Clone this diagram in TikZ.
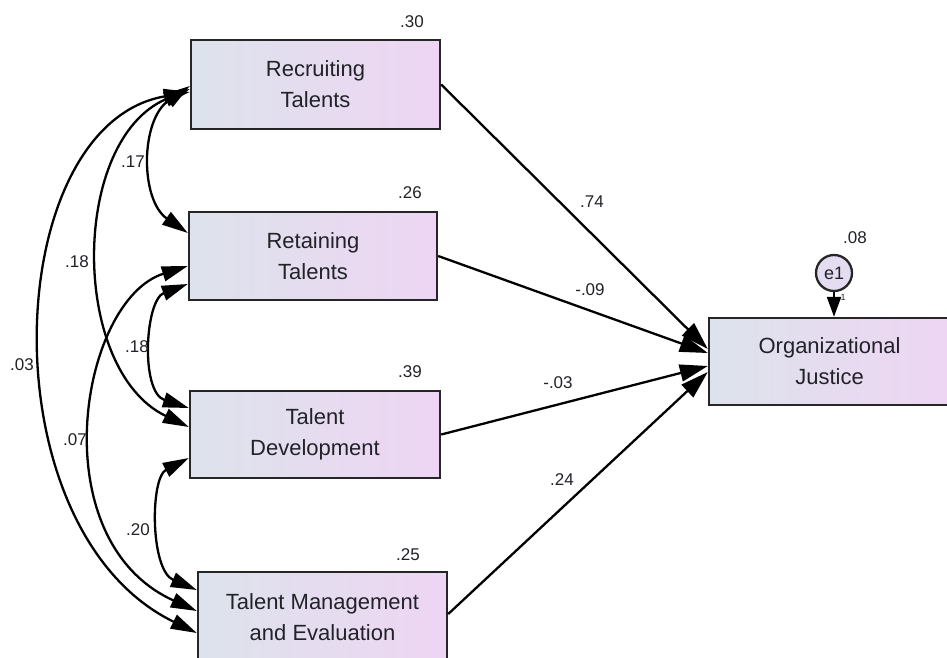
\documentclass[tikz,border=0pt]{standalone}
\usepackage{fontspec}
\setmainfont{Liberation Sans}
\usetikzlibrary{arrows.meta}
\definecolor{boxl}{HTML}{DDE3EC}
\definecolor{boxr}{HTML}{EED5F3}
\definecolor{txt}{HTML}{222229}
\definecolor{circ}{HTML}{E4DCF0}
\begin{document}
\begin{tikzpicture}[x=1pt,y=-1pt,
  box/.style={draw=black!85, line width=2.4pt, left color=boxl, right color=boxr,
    text=txt, align=center, inner sep=0pt, font=\fontsize{22}{31}\selectfont},
  num/.style={text=txt, font=\fontsize{17}{17}\selectfont, inner sep=0pt},
  regpath/.style={line width=2.3pt, -{Triangle[length=28pt,width=17pt]}},
  cov/.style={line width=2.3pt, {Triangle[length=26pt,width=15pt]}-{Triangle[length=26pt,width=15pt]}}]
\useasboundingbox (0,0) rectangle (947,657);
\clip (0,0) rectangle (947,657);
\fill[white] (0,0) rectangle (947,657);

% boxes
\node[box, minimum width=249pt, minimum height=89pt] (rec) at (315.5,84.5) {Recruiting\\Talents};
\node[box, minimum width=248pt, minimum height=88pt] (ret) at (313,256) {Retaining\\Talents};
\node[box, minimum width=250pt, minimum height=87pt] (td) at (315,434.5) {Talent\\Development};
\node[box, minimum width=249pt, minimum height=90pt] (tme) at (322.5,617) {Talent Management\\and Evaluation};
\node[box, minimum width=241pt, minimum height=87pt] (oj) at (829.5,361.5) {Organizational\\Justice};

% error term
\node[draw=black!85, line width=2.3pt, circle, fill=circ, minimum size=36pt, inner sep=0pt,
  text=txt, font=\fontsize{18}{18}\selectfont] (e1) at (834,273) {e1};
\draw[line width=2.3pt, -{Triangle[length=20pt,width=14pt]}] (e1.south) -- (e1.south |- oj.north);
\node[text=txt, font=\fontsize{9}{9}\selectfont] (one) at (843,297) {1};

% squared multiple correlations
\node[num] (r1) at (412,22) {.30};
\node[num] (r2) at (410,193) {.26};
\node[num] (r3) at (410,372) {.39};
\node[num] (r4) at (408,555) {.25};
\node[num] (r5) at (855,238) {.08};

% regression paths
\draw[regpath] (rec.east) -- ([yshift=12.5pt]oj.west);
\draw[regpath] (ret.east) -- ([yshift=8.5pt]oj.west);
\draw[regpath] (td.east) -- ([yshift=-4.5pt]oj.west);
\draw[regpath] ([yshift=3pt]tme.east) -- ([yshift=-10.5pt]oj.west);
\node[num] (p1) at (592,202) {.74};
\node[num] (p2) at (590,290) {-.09};
\node[num] (p3) at (558,383) {-.03};
\node[num] (p4) at (562,480) {.24};

% covariances
\draw[cov] ([yshift=-1.5pt]rec.west) .. controls (140,120) and (140,200) .. ([yshift=23pt]ret.west);
\draw[cov] ([yshift=-4.5pt]rec.west) .. controls (70,140) and (70,370) .. ([yshift=7.5pt]td.west);
\draw[cov] ([yshift=-7.5pt]rec.west) .. controls (0,125) and (-15,530) .. ([yshift=-16pt]tme.west);
\draw[cov] ([yshift=-10pt]ret.west) .. controls (80,300) and (40,540) .. ([yshift=6pt]tme.west);
\draw[cov] ([yshift=-28pt]ret.west) .. controls (145,300) and (140,392) .. ([yshift=26.5pt]td.west);
\draw[cov] ([yshift=-23.5pt]td.west) .. controls (150,478) and (150,570) .. ([yshift=27pt]tme.west);
\node[num] (c1) at (133,162) {.17};
\node[num] (c2) at (77,262) {.18};
\node[num] (c3) at (137,347) {.18};
\node[num] (c4) at (22,365) {.03};
\node[num] (c5) at (75,440) {.07};
\node[num] (c6) at (138,530) {.20};
\end{tikzpicture}
\end{document}
